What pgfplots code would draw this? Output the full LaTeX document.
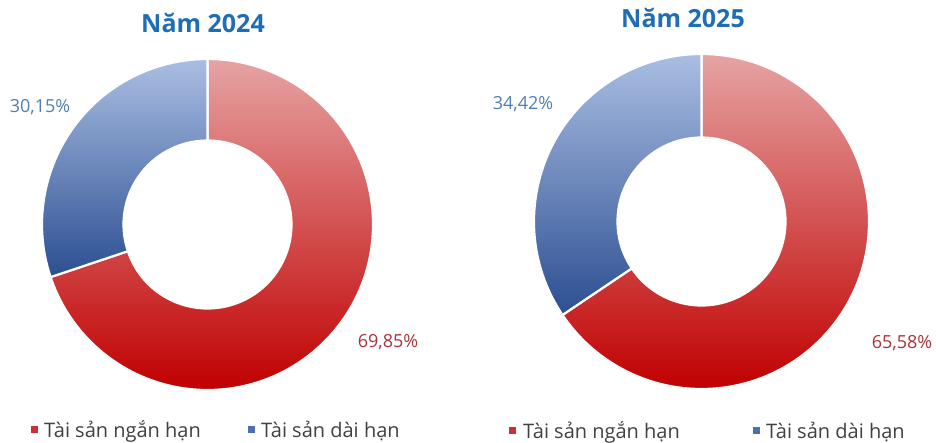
\documentclass[border=0pt]{standalone}
\usepackage{pgfplots}
\pgfplotsset{compat=1.18}
\usepackage{pgfplotstable}
\usepackage{fontspec}
\setmainfont{Open Sans}
\definecolor{titleblue}{HTML}{1F6DB5}
\definecolor{redtop}{HTML}{E6A3A3}
\definecolor{redbot}{HTML}{C00000}
\definecolor{bluetop}{HTML}{AABEE2}
\definecolor{bluebot}{HTML}{2C4F92}
\definecolor{lblblue}{HTML}{4F7EB5}
\definecolor{lblred}{HTML}{A8323A}
\definecolor{legred}{HTML}{CF2E38}
\definecolor{legblue}{HTML}{4A70B0}
\definecolor{legtext}{HTML}{404040}

\pgfplotstableread{
label value
ngan 69.85
dai 30.15
}\dataA
\pgfplotstableread{
label value
ngan 65.58
dai 34.42
}\dataB

\begin{document}%
\begin{tikzpicture}
\pgfplotstablegetelem{0}{value}\of\dataA
\pgfmathsetmacro{\angA}{90-3.6*\pgfplotsretval}
\pgfplotstablegetelem{0}{value}\of\dataB
\pgfmathsetmacro{\angB}{90-3.6*\pgfplotsretval}
\begin{axis}[
  scale only axis, width=936pt, height=442pt,
  xmin=0, xmax=936, ymin=0, ymax=442,
  hide axis, clip=false,
  at={(0,0)}, anchor=south west,
]
% 2024 donut
\begin{scope}[shift={(axis cs:207.5,217.5)}]
  \shadedraw[top color=redtop, bottom color=redbot, draw=white, line width=2.2pt]
    (90:165.5pt) arc[start angle=90, end angle=\angA, radius=165.5pt]
    -- (\angA:84pt) arc[start angle=\angA, end angle=90, radius=84pt] -- cycle;
  \shadedraw[top color=bluetop, bottom color=bluebot, draw=white, line width=2.2pt]
    (\angA:165.5pt) arc[start angle=\angA, end angle=-270, radius=165.5pt]
    -- (90:84pt) arc[start angle=-270, end angle=\angA, radius=84pt] -- cycle;
\end{scope}
% 2025 donut
\begin{scope}[shift={(axis cs:701.5,220.5)}]
  \shadedraw[top color=redtop, bottom color=redbot, draw=white, line width=2.2pt]
    (90:167.5pt) arc[start angle=90, end angle=\angB, radius=167.5pt]
    -- (\angB:84pt) arc[start angle=\angB, end angle=90, radius=84pt] -- cycle;
  \shadedraw[top color=bluetop, bottom color=bluebot, draw=white, line width=2.2pt]
    (\angB:167.5pt) arc[start angle=\angB, end angle=-270, radius=167.5pt]
    -- (90:84pt) arc[start angle=-270, end angle=\angB, radius=84pt] -- cycle;
\end{scope}
% titles
\node[anchor=base, font=\fontsize{25}{28}\selectfont\bfseries, text=titleblue, inner sep=0pt] at (axis cs:203,409) {Năm 2024};
\node[anchor=base, font=\fontsize{25}{28}\selectfont\bfseries, text=titleblue, inner sep=0pt] at (axis cs:683,414) {Năm 2025};
% percentage labels
\node[anchor=base, font=\fontsize{18}{20}\selectfont, text=lblblue, inner sep=0pt] at (axis cs:40,329) {30,15\%};
\node[anchor=base, font=\fontsize{18}{20}\selectfont, text=lblred, inner sep=0pt] at (axis cs:388,95) {69,85\%};
\node[anchor=base, font=\fontsize{18}{20}\selectfont, text=lblblue, inner sep=0pt] at (axis cs:523,332) {34,42\%};
\node[anchor=base, font=\fontsize{18}{20}\selectfont, text=lblred, inner sep=0pt] at (axis cs:902,94) {65,58\%};
% legends
\fill[legred] (axis cs:31,9) rectangle (axis cs:38,16);
\node[anchor=base west, font=\fontsize{20}{22}\selectfont, text=legtext, inner sep=0pt] at (axis cs:44,5) {Tài sản ngắn hạn};
\fill[legblue] (axis cs:248,9) rectangle (axis cs:255,16);
\node[anchor=base west, font=\fontsize{20}{22}\selectfont, text=legtext, inner sep=0pt] at (axis cs:261,5) {Tài sản dài hạn};
\fill[legred] (axis cs:509,8) rectangle (axis cs:516,15);
\node[anchor=base west, font=\fontsize{20}{22}\selectfont, text=legtext, inner sep=0pt] at (axis cs:523,4) {Tài sản ngắn hạn};
\fill[legblue] (axis cs:753,8) rectangle (axis cs:760,15);
\node[anchor=base west, font=\fontsize{20}{22}\selectfont, text=legtext, inner sep=0pt] at (axis cs:766,4) {Tài sản dài hạn};
\end{axis}
\pgfresetboundingbox
\useasboundingbox (0,0) rectangle (936pt,442pt);
\end{tikzpicture}%
\end{document}
